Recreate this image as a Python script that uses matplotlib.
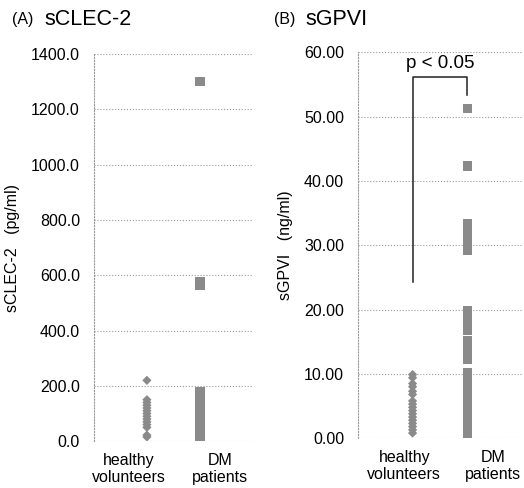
import matplotlib
matplotlib.use("Agg")
import matplotlib.pyplot as plt
import numpy as np

plt.rcParams['font.family'] = ['Liberation Sans', 'DejaVu Sans']

# data
groups = ['healthy\nvolunteers', 'DM\npatients']

clec_healthy = [15, 22, 50, 60, 70, 80, 90, 100, 110, 120, 130, 140, 150, 220]
clec_dm = [0, 5, 10, 15, 20, 25, 30, 35, 40, 45, 50, 55, 60, 65, 70, 75, 80, 85,
           90, 95, 100, 105, 110, 115, 120, 125, 130, 135, 140, 145, 150, 155,
           160, 165, 170, 175, 180, 565, 578, 1300]

gpvi_healthy = [0.8, 1.3, 1.8, 2.3, 2.8, 3.3, 3.8, 4.3, 4.8, 5.3, 5.8,
                6.8, 7.3, 8.0, 8.5, 9.4, 9.9]
gpvi_dm = [0.3, 0.8, 1.3, 1.8, 2.3, 2.8, 3.3, 3.8, 4.3, 4.8, 5.3,
           6.2, 6.7, 7.2, 7.7, 8.2, 8.7, 9.2, 9.7, 10.2,
           12.2, 12.7, 13.2, 13.7, 14.2, 14.7, 15.2,
           16.8, 17.3, 17.8, 18.3, 18.8, 19.3, 19.8,
           29.2, 29.7, 30.8, 31.3, 31.8, 32.3, 32.8, 33.3, 42.3, 51.3]

clec_ticks = [0, 200, 400, 600, 800, 1000, 1200, 1400]
gpvi_ticks = [0, 10, 20, 30, 40, 50, 60]

fig = plt.figure(figsize=(5.24, 4.88), dpi=100)
axA = fig.add_axes([0.179, 0.096, 0.304, 0.793])
axB = fig.add_axes([0.683, 0.102, 0.313, 0.791])

mcol = '#8a8a8a'

def style(ax, ticks, fmt, top, label_x):
    ax.set_xlim(0, 3)
    ax.set_ylim(0, top)
    ax.set_yticks(ticks)
    ax.set_yticklabels([fmt % t for t in ticks], fontsize=11.5)
    ax.set_xticks([])
    ax.tick_params(length=0, pad=10)
    for s in ['top', 'right', 'bottom']:
        ax.spines[s].set_visible(False)
    ax.spines['left'].set_linestyle(':')
    ax.spines['left'].set_color('#999999')
    ax.spines['left'].set_linewidth(0.8)
    ax.grid(axis='y', linestyle=':', color='#999999', linewidth=0.8)
    ax.set_axisbelow(True)
    # category labels sit off-centre in the original
    for x, g in zip(label_x, groups):
        ax.text(x, -0.03, g, transform=ax.get_xaxis_transform(), ha='center', va='top',
                fontsize=11.5, linespacing=1.2)

style(axA, clec_ticks, '%.1f', 1400, [0.66, 2.38])
axA.scatter([1] * len(clec_healthy), clec_healthy, marker='D', s=22, color=mcol, edgecolors='none', zorder=3)
axA.scatter([2] * len(clec_dm), clec_dm, marker='s', s=45, color=mcol, edgecolors='none', zorder=3)
axA.set_ylabel('sCLEC-2   (pg/ml)', fontsize=11.5, labelpad=8)

style(axB, gpvi_ticks, '%.2f', 60, [0.85, 2.47])
axB.scatter([1] * len(gpvi_healthy), gpvi_healthy, marker='D', s=22, color=mcol, edgecolors='none', zorder=3)
axB.scatter([2] * len(gpvi_dm), gpvi_dm, marker='s', s=45, color=mcol, edgecolors='none', zorder=3)
axB.set_ylabel('sGPVI   (ng/ml)', fontsize=11.5, labelpad=8)

# significance bracket
axB.plot([1, 1, 2, 2], [24.3, 56.2, 56.2, 53.3], color='#222222', linewidth=1.1)
axB.text(1.5, 58.2, 'p < 0.05', ha='center', va='center', fontsize=13.5)

fig.text(0.022, 0.96, '(A)', fontsize=11.5, va='center')
fig.text(0.085, 0.96, 'sCLEC-2', fontsize=15.5, va='center')
fig.text(0.522, 0.96, '(B)', fontsize=11.5, va='center')
fig.text(0.583, 0.96, 'sGPVI', fontsize=15.5, va='center')

fig.savefig('out.png', dpi=100)
